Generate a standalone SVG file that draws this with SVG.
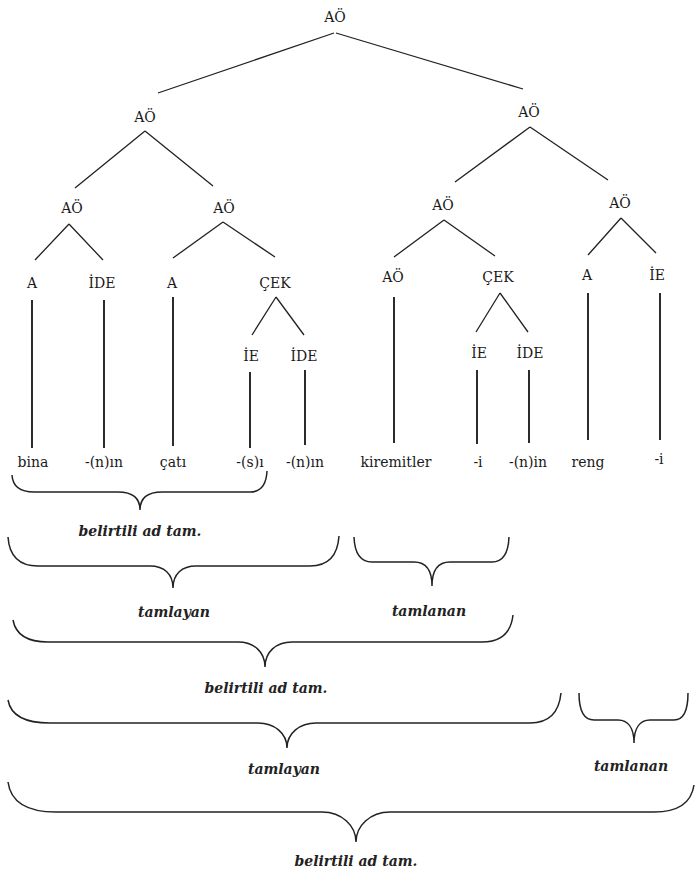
<svg xmlns="http://www.w3.org/2000/svg" width="696" height="871" viewBox="0 0 696 871">
<style>
.lbl{font-family:"DejaVu Serif","Liberation Serif",serif;font-size:14px;fill:#1a1a1a;text-anchor:middle}
.wd{font-family:"DejaVu Serif","Liberation Serif",serif;font-size:14px;fill:#1a1a1a;text-anchor:middle}
.br{font-family:"DejaVu Serif","Liberation Serif",serif;font-size:14px;font-weight:bold;font-style:italic;fill:#222;text-anchor:middle}
.e{stroke:#222;stroke-width:1.3;fill:none}
.v{stroke:#222;stroke-width:1.9;fill:none}
.b{stroke:#222;stroke-width:1.5;fill:none}
</style>
<rect width="696" height="871" fill="#fff"/>
<g id="connectors">
<path class="e" d="M334 33L158 93M336 33L523 89"/>
<path class="e" d="M145 131L75 188M145 131L213 186"/>
<path class="e" d="M530 127L455 182M530 127L608 180"/>
<path class="e" d="M69 224L35 260M69 224L103 260"/>
<path class="e" d="M223 222L173 258M223 222L275 257"/>
<path class="e" d="M444 220L394 257M444 220L495 256"/>
<path class="e" d="M621 218L588 255M621 218L656 253"/>
<path class="e" d="M276 297L252 335M276 297L304 335"/>
<path class="e" d="M500 293L476 332M500 293L528 332"/>
<path class="v" d="M32 300V448M104 300V448M173 297V446M250 372V448M305 370V445"/>
<path class="v" d="M394 297V443M477 370V444M529 370V443M588 293V440M660 293V440"/>
</g>
<g id="n-root"><text class="lbl" x="335" y="22">AÖ</text></g>
<g id="n-l2a"><text class="lbl" x="145" y="122">AÖ</text></g>
<g id="n-l2b"><text class="lbl" x="529" y="117">AÖ</text></g>
<g id="n-l3a"><text class="lbl" x="72" y="213">AÖ</text></g>
<g id="n-l3b"><text class="lbl" x="224" y="213">AÖ</text></g>
<g id="n-l3c"><text class="lbl" x="443" y="210">AÖ</text></g>
<g id="n-l3d"><text class="lbl" x="620" y="208">AÖ</text></g>
<g id="n-a1"><text class="lbl" x="32" y="288">A</text></g>
<g id="n-ide1"><text class="lbl" x="102" y="288">İDE</text></g>
<g id="n-a2"><text class="lbl" x="172" y="288">A</text></g>
<g id="n-cek1"><text class="lbl" x="275" y="288">ÇEK</text></g>
<g id="n-ao4"><text class="lbl" x="393" y="282">AÖ</text></g>
<g id="n-cek2"><text class="lbl" x="498" y="282">ÇEK</text></g>
<g id="n-a3"><text class="lbl" x="587" y="280">A</text></g>
<g id="n-ie3"><text class="lbl" x="657" y="280">İE</text></g>
<g id="n-ie1"><text class="lbl" x="251" y="361">İE</text></g>
<g id="n-ide2"><text class="lbl" x="304" y="361">İDE</text></g>
<g id="n-ie2"><text class="lbl" x="479" y="358">İE</text></g>
<g id="n-ide3"><text class="lbl" x="530" y="358">İDE</text></g>
<g id="words">
<text class="wd" x="33" y="467">bina</text>
<text class="wd" x="104" y="467">-(n)ın</text>
<text class="wd" x="173" y="467">çatı</text>
<text class="wd" x="250" y="467">-(s)ı</text>
<text class="wd" x="305" y="467">-(n)ın</text>
<text class="wd" x="396" y="467">kiremitler</text>
<text class="wd" x="478" y="467">-i</text>
<text class="wd" x="528" y="467">-(n)in</text>
<text class="wd" x="588" y="467">reng</text>
<text class="wd" x="659" y="464">-i</text>
</g>
<g id="braces">
<path class="b" d="M12 475Q13 492 34 492L118 492C132 492 140 498 140 510C140 498 148 492 162 492L250 492Q266 492 267 471"/>
<path class="b" d="M8 537Q10 566 38 566L150 566C164 566 173 574 173 588C173 574 182 566 196 566L310 566Q337 566 339 536"/>
<path class="b" d="M354 537Q355 562 372 562L414 562C426 562 432 570 432 586C432 570 438 562 450 562L492 562Q508 562 509 537"/>
<path class="b" d="M13 620Q17 642 48 642L238 642C254 642 265 652 265 667C265 652 276 642 292 642L482 642Q510 642 513 615"/>
<path class="b" d="M8 700Q12 723 50 723L258 723C274 723 287 733 287 748C287 733 300 723 316 723L530 723Q558 723 561 693"/>
<path class="b" d="M579 693Q579 720 594 720L618 720C628 720 634 728 634 743C634 728 640 720 650 720L674 720Q688 720 688 693"/>
<path class="b" d="M8 782Q12 812 56 812L322 812C342 812 356 826 356 842C356 826 370 812 390 812L654 812Q690 812 694 785"/>
</g>
<g id="brace-labels">
<text class="br" x="140" y="536">belirtili ad tam.</text>
<text class="br" x="174" y="617">tamlayan</text>
<text class="br" x="429" y="616">tamlanan</text>
<text class="br" x="266" y="693">belirtili ad tam.</text>
<text class="br" x="284" y="774">tamlayan</text>
<text class="br" x="631" y="771">tamlanan</text>
<text class="br" x="356" y="866">belirtili ad tam.</text>
</g>
</svg>
